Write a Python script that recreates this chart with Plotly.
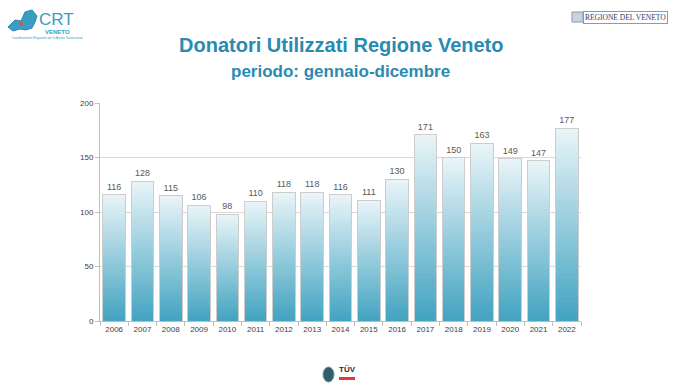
import plotly.graph_objects as go

years = ["2006", "2007", "2008", "2009", "2010", "2011", "2012", "2013", "2014",
         "2015", "2016", "2017", "2018", "2019", "2020", "2021", "2022"]
donors = [116, 128, 115, 106, 98, 110, 118, 118, 116, 111, 130, 171, 150, 163, 149, 147, 177]
y_ticks = [0, 50, 100, 150, 200]

title_text = "Donatori Utilizzati Regione Veneto"
subtitle_text = "periodo: gennaio-dicembre"

# figure geometry (page body has an 8px margin)
W, H = 672, 375
ML, MR, MT, MB = 92, 99, 95, 62
PW, PH = W - ML - MR, H - MT - MB


def px(x, y):
    """figure pixel -> paper coordinates (for decorative logo shapes)"""
    return (x - ML) / PW, 1 - (y - MT) / PH


# gradient colours (bottom -> top)
c_bottom = (68, 164, 193)
c_top = (232, 244, 248)
N = 40

fig = go.Figure()
for i in range(N):
    t = i / (N - 1)
    r = round(c_bottom[0] + (c_top[0] - c_bottom[0]) * t)
    g = round(c_bottom[1] + (c_top[1] - c_bottom[1]) * t)
    b = round(c_bottom[2] + (c_top[2] - c_bottom[2]) * t)
    fig.add_trace(go.Bar(
        x=years, y=[v / N for v in donors],
        marker=dict(color=f"rgb({r},{g},{b})", line=dict(width=0)),
        hoverinfo="skip", showlegend=False,
    ))

# outline + value labels
fig.add_trace(go.Bar(
    x=years, y=donors, xaxis="x2", yaxis="y",
    marker=dict(color="rgba(0,0,0,0)", line=dict(color="#cdcdcd", width=1)),
    text=[str(v) for v in donors], texttemplate="%{text}", textposition="outside",
    textfont=dict(family="Liberation Sans, Arial", size=9, color="#595959"),
    cliponaxis=False, showlegend=False,
))

axis_font = dict(family="Liberation Sans, Arial", size=8, color="#404040")
fig.update_layout(
    width=W, height=H,
    margin=dict(l=ML, r=MR, t=MT, b=MB),
    paper_bgcolor="white", plot_bgcolor="white",
    barmode="stack", bargap=0.2,
    xaxis=dict(type="category", categoryorder="array", categoryarray=years,
               showgrid=False, showline=True, linecolor="#bfbfbf", linewidth=1,
               ticks="outside", tickson="boundaries", ticklen=4, tickcolor="#bfbfbf",
               tickfont=axis_font, range=[-0.5, 16.5]),
    xaxis2=dict(type="category", categoryorder="array", categoryarray=years,
                overlaying="x", visible=False, range=[-0.5, 16.5]),
    yaxis=dict(range=[0, 200], tickvals=y_ticks, showgrid=True, gridcolor="#d9d9d9",
               gridwidth=1, showline=True, linecolor="#bfbfbf", ticks="outside",
               ticklen=4, tickcolor="#bfbfbf", tickfont=axis_font, zeroline=False),
    font=dict(family="Liberation Sans, Arial"),
)

fig.add_annotation(text=f"<b>{title_text}</b>", xref="paper", yref="paper",
                   x=0.5, y=1, xanchor="center", yanchor="middle",
                   yshift=58, showarrow=False,
                   font=dict(family="Liberation Sans, Arial", size=20, color="#2a8ab2"))
fig.add_annotation(text=f"<b>{subtitle_text}</b>", xref="paper", yref="paper",
                   x=0.5, y=1, xanchor="center", yanchor="middle",
                   yshift=32, showarrow=False,
                   font=dict(family="Liberation Sans, Arial", size=17, color="#2a8ab2"))

# ---- logos (decorative approximations) ----
map_pts = [(0, 19), (7, 12), (13, 13), (17, 4), (24, 2), (29, 8), (27, 14),
           (24, 20), (18, 22), (12, 21), (5, 23)]
path = "M " + " L ".join(f"{px(x, y)[0]:.4f},{px(x, y)[1]:.4f}" for x, y in map_pts) + " Z"
fig.add_shape(type="path", path=path, xref="paper", yref="paper",
              fillcolor="#3b9dc2", line=dict(color="#2e86ad", width=1), layer="above")
cx0, cy0 = px(11, 14)
cx1, cy1 = px(15, 18)
fig.add_shape(type="circle", xref="paper", yref="paper", x0=cx0, y0=cy1, x1=cx1, y1=cy0,
              fillcolor="#d9534f", line=dict(width=0))
fig.add_annotation(text="CRT", xref="paper", yref="paper", x=0, y=1,
                   xanchor="left", yanchor="middle", xshift=-63, yshift=84,
                   showarrow=False,
                   font=dict(family="Liberation Sans, Arial", size=17, color="#3b9dc2"))
fig.add_annotation(text="<b>VENETO</b>", xref="paper", yref="paper", x=0, y=1,
                   xanchor="left", yanchor="middle", xshift=-57, yshift=71,
                   showarrow=False,
                   font=dict(family="Liberation Sans, Arial", size=6, color="#3b9dc2"))
fig.add_annotation(text="Coordinamento Regionale per le Attività Trasfusionali", xref="paper",
                   yref="paper", x=0, y=1, xanchor="left", yanchor="middle",
                   xshift=-90, yshift=65, showarrow=False,
                   font=dict(family="Liberation Sans, Arial", size=3, color="#3b9dc2"))

fig.add_annotation(text="REGIONE DEL VENETO", xref="paper", yref="paper", x=1, y=1,
                   xanchor="right", yanchor="middle", xshift=87, yshift=86,
                   showarrow=False, bordercolor="#8a9ab0", borderwidth=1, borderpad=1,
                   font=dict(family="Liberation Serif, Times New Roman", size=7.5,
                             color="#2c3e6a"))
bx0, by0 = px(564, 4)
bx1, by1 = px(575, 14)
fig.add_shape(type="rect", xref="paper", yref="paper", x0=bx0, y0=by1, x1=bx1, y1=by0,
              fillcolor="#c9d3e0", line=dict(color="#8a9ab0", width=1))

# bottom certification logos
ex0, ey0 = px(315, 359)
ex1, ey1 = px(326, 374)
fig.add_shape(type="circle", xref="paper", yref="paper", x0=ex0, y0=ey1, x1=ex1, y1=ey0,
              fillcolor="#2f5f6a", line=dict(color="#6d9aa3", width=1))
fig.add_annotation(text="<b>TÜV</b>", xref="paper", yref="paper", x=px(339, 361)[0],
                   y=px(339, 361)[1], xanchor="center", yanchor="middle", showarrow=False,
                   font=dict(family="Liberation Sans, Arial", size=8, color="#2b2b2b"))
rx0, ry0 = px(331, 369)
rx1, ry1 = px(347, 372)
fig.add_shape(type="rect", xref="paper", yref="paper", x0=rx0, y0=ry1, x1=rx1, y1=ry0,
              fillcolor="#e03a3a", line=dict(width=0))

fig.write_html("out.html")
